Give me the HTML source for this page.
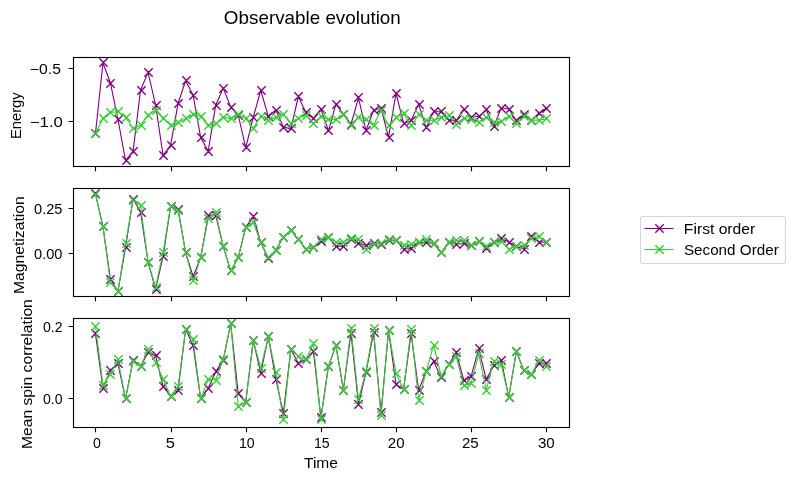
<!DOCTYPE html><html><head><meta charset="utf-8"><style>html,body{margin:0;padding:0;background:#fff;width:794px;height:480px;overflow:hidden}svg{display:block;will-change:transform}text{font-family:"Liberation Sans",sans-serif;fill:#000}</style></head><body>
<svg width="794" height="480" viewBox="0 0 794 480">
<rect width="794" height="480" fill="#fff"/>
<defs>
<clipPath id="c0"><rect x="73.5" y="57.5" width="496.0" height="109.0"/></clipPath>
<clipPath id="c1"><rect x="73.5" y="188.5" width="496.0" height="108.0"/></clipPath>
<clipPath id="c2"><rect x="73.5" y="318.5" width="496.0" height="109.0"/></clipPath>
</defs>
<g clip-path="url(#c0)">
<polyline points="95.45,133.7 102.97,62.8 110.48,83.3 118,119.5 125.51,160.4 133.03,151.6 140.54,90.3 148.06,72.4 155.57,105 163.09,155.4 170.6,145.3 178.12,103.2 185.63,80.8 193.15,95.3 200.66,137.5 208.18,151.3 215.69,105.3 223.21,88 230.72,107.1 238.24,115 245.75,147.8 253.27,117 260.78,90.5 268.3,116.3 275.81,110 283.33,127 290.84,128.9 298.36,96.5 305.87,112.5 313.39,118.2 320.9,109.3 328.42,130.8 335.93,104.1 343.45,114 350.97,124.5 358.48,97.8 366,130.8 373.51,110.2 381.03,108 388.54,137.1 396.06,93.4 403.57,123.3 411.09,120.7 418.6,104.1 426.12,127.7 433.63,111.8 441.15,111.8 448.66,120.1 456.18,120.7 463.69,109.3 471.21,117 478.72,116.3 486.24,109.9 493.75,126.4 501.27,108 508.78,109 516.3,120.7 523.81,114.4 531.33,120.7 538.84,113.2 546.36,108" fill="none" stroke="#800080" stroke-width="1.1111" stroke-linejoin="round" stroke-linecap="square"/>
<path d="M91.33 129.33l8.33 8.33M91.33 137.67l8.33 -8.33M99.33 58.33l8.33 8.33M99.33 66.67l8.33 -8.33M106.33 79.33l8.33 8.33M106.33 87.67l8.33 -8.33M114.33 115.33l8.33 8.33M114.33 123.67l8.33 -8.33M122.33 156.33l8.33 8.33M122.33 164.67l8.33 -8.33M129.33 147.33l8.33 8.33M129.33 155.67l8.33 -8.33M137.33 86.33l8.33 8.33M137.33 94.67l8.33 -8.33M144.33 68.33l8.33 8.33M144.33 76.67l8.33 -8.33M152.33 101.33l8.33 8.33M152.33 109.67l8.33 -8.33M159.33 151.33l8.33 8.33M159.33 159.67l8.33 -8.33M167.33 141.33l8.33 8.33M167.33 149.67l8.33 -8.33M174.33 99.33l8.33 8.33M174.33 107.67l8.33 -8.33M182.33 76.33l8.33 8.33M182.33 84.67l8.33 -8.33M189.33 91.33l8.33 8.33M189.33 99.67l8.33 -8.33M197.33 133.33l8.33 8.33M197.33 141.67l8.33 -8.33M204.33 147.33l8.33 8.33M204.33 155.67l8.33 -8.33M212.33 101.33l8.33 8.33M212.33 109.67l8.33 -8.33M219.33 84.33l8.33 8.33M219.33 92.67l8.33 -8.33M227.33 103.33l8.33 8.33M227.33 111.67l8.33 -8.33M234.33 111.33l8.33 8.33M234.33 119.67l8.33 -8.33M242.33 143.33l8.33 8.33M242.33 151.67l8.33 -8.33M249.33 113.33l8.33 8.33M249.33 121.67l8.33 -8.33M257.33 86.33l8.33 8.33M257.33 94.67l8.33 -8.33M264.33 112.33l8.33 8.33M264.33 120.67l8.33 -8.33M272.33 106.33l8.33 8.33M272.33 114.67l8.33 -8.33M279.33 123.33l8.33 8.33M279.33 131.67l8.33 -8.33M287.33 124.33l8.33 8.33M287.33 132.67l8.33 -8.33M294.33 92.33l8.33 8.33M294.33 100.67l8.33 -8.33M302.33 108.33l8.33 8.33M302.33 116.67l8.33 -8.33M309.33 114.33l8.33 8.33M309.33 122.67l8.33 -8.33M317.33 105.33l8.33 8.33M317.33 113.67l8.33 -8.33M324.33 126.33l8.33 8.33M324.33 134.67l8.33 -8.33M332.33 100.33l8.33 8.33M332.33 108.67l8.33 -8.33M339.33 110.33l8.33 8.33M339.33 118.67l8.33 -8.33M347.33 120.33l8.33 8.33M347.33 128.67l8.33 -8.33M354.33 93.33l8.33 8.33M354.33 101.67l8.33 -8.33M362.33 126.33l8.33 8.33M362.33 134.67l8.33 -8.33M370.33 106.33l8.33 8.33M370.33 114.67l8.33 -8.33M377.33 104.33l8.33 8.33M377.33 112.67l8.33 -8.33M385.33 133.33l8.33 8.33M385.33 141.67l8.33 -8.33M392.33 89.33l8.33 8.33M392.33 97.67l8.33 -8.33M400.33 119.33l8.33 8.33M400.33 127.67l8.33 -8.33M407.33 116.33l8.33 8.33M407.33 124.67l8.33 -8.33M415.33 100.33l8.33 8.33M415.33 108.67l8.33 -8.33M422.33 123.33l8.33 8.33M422.33 131.67l8.33 -8.33M430.33 107.33l8.33 8.33M430.33 115.67l8.33 -8.33M437.33 107.33l8.33 8.33M437.33 115.67l8.33 -8.33M445.33 116.33l8.33 8.33M445.33 124.67l8.33 -8.33M452.33 116.33l8.33 8.33M452.33 124.67l8.33 -8.33M460.33 105.33l8.33 8.33M460.33 113.67l8.33 -8.33M467.33 113.33l8.33 8.33M467.33 121.67l8.33 -8.33M475.33 112.33l8.33 8.33M475.33 120.67l8.33 -8.33M482.33 105.33l8.33 8.33M482.33 113.67l8.33 -8.33M490.33 122.33l8.33 8.33M490.33 130.67l8.33 -8.33M497.33 104.33l8.33 8.33M497.33 112.67l8.33 -8.33M505.33 105.33l8.33 8.33M505.33 113.67l8.33 -8.33M512.33 116.33l8.33 8.33M512.33 124.67l8.33 -8.33M520.33 110.33l8.33 8.33M520.33 118.67l8.33 -8.33M527.33 116.33l8.33 8.33M527.33 124.67l8.33 -8.33M535.33 109.33l8.33 8.33M535.33 117.67l8.33 -8.33M542.33 104.33l8.33 8.33M542.33 112.67l8.33 -8.33" fill="none" stroke="#800080" stroke-width="1.3889"/>
<polyline points="95.45,133.7 102.97,118.2 110.48,112.3 118,111.9 125.51,117 133.03,128.3 140.54,125.2 148.06,115.1 155.57,110 163.09,118.2 170.6,125.2 178.12,122.6 185.63,118.9 193.15,114.4 200.66,116.3 208.18,125.2 215.69,123.9 223.21,117 230.72,118.9 238.24,114.4 245.75,118.2 253.27,128.3 260.78,116.3 268.3,120.1 275.81,117.6 283.33,114.5 290.84,123.9 298.36,118.2 305.87,115.1 313.39,123.9 320.9,116.3 328.42,119.5 335.93,119.5 343.45,114.4 350.97,125.2 358.48,117 366,119.5 373.51,125.5 381.03,110 388.54,125.8 396.06,117.6 403.57,113.8 411.09,125.8 418.6,114.4 426.12,120.7 433.63,120.1 441.15,117.6 448.66,115.7 456.18,124.5 463.69,118.2 471.21,119.5 478.72,122.6 486.24,117 493.75,122 501.27,121.4 508.78,116.3 516.3,123.3 523.81,116.3 531.33,120.1 538.84,120.1 546.36,118.9" fill="none" stroke="#32cd32" stroke-width="1.1111" stroke-linejoin="round" stroke-linecap="square"/>
<path d="M91.33 129.33l8.33 8.33M91.33 137.67l8.33 -8.33M99.33 114.33l8.33 8.33M99.33 122.67l8.33 -8.33M106.33 108.33l8.33 8.33M106.33 116.67l8.33 -8.33M114.33 107.33l8.33 8.33M114.33 115.67l8.33 -8.33M122.33 113.33l8.33 8.33M122.33 121.67l8.33 -8.33M129.33 124.33l8.33 8.33M129.33 132.67l8.33 -8.33M137.33 121.33l8.33 8.33M137.33 129.67l8.33 -8.33M144.33 111.33l8.33 8.33M144.33 119.67l8.33 -8.33M152.33 106.33l8.33 8.33M152.33 114.67l8.33 -8.33M159.33 114.33l8.33 8.33M159.33 122.67l8.33 -8.33M167.33 121.33l8.33 8.33M167.33 129.67l8.33 -8.33M174.33 118.33l8.33 8.33M174.33 126.67l8.33 -8.33M182.33 114.33l8.33 8.33M182.33 122.67l8.33 -8.33M189.33 110.33l8.33 8.33M189.33 118.67l8.33 -8.33M197.33 112.33l8.33 8.33M197.33 120.67l8.33 -8.33M204.33 121.33l8.33 8.33M204.33 129.67l8.33 -8.33M212.33 119.33l8.33 8.33M212.33 127.67l8.33 -8.33M219.33 113.33l8.33 8.33M219.33 121.67l8.33 -8.33M227.33 114.33l8.33 8.33M227.33 122.67l8.33 -8.33M234.33 110.33l8.33 8.33M234.33 118.67l8.33 -8.33M242.33 114.33l8.33 8.33M242.33 122.67l8.33 -8.33M249.33 124.33l8.33 8.33M249.33 132.67l8.33 -8.33M257.33 112.33l8.33 8.33M257.33 120.67l8.33 -8.33M264.33 116.33l8.33 8.33M264.33 124.67l8.33 -8.33M272.33 113.33l8.33 8.33M272.33 121.67l8.33 -8.33M279.33 110.33l8.33 8.33M279.33 118.67l8.33 -8.33M287.33 119.33l8.33 8.33M287.33 127.67l8.33 -8.33M294.33 114.33l8.33 8.33M294.33 122.67l8.33 -8.33M302.33 111.33l8.33 8.33M302.33 119.67l8.33 -8.33M309.33 119.33l8.33 8.33M309.33 127.67l8.33 -8.33M317.33 112.33l8.33 8.33M317.33 120.67l8.33 -8.33M324.33 115.33l8.33 8.33M324.33 123.67l8.33 -8.33M332.33 115.33l8.33 8.33M332.33 123.67l8.33 -8.33M339.33 110.33l8.33 8.33M339.33 118.67l8.33 -8.33M347.33 121.33l8.33 8.33M347.33 129.67l8.33 -8.33M354.33 113.33l8.33 8.33M354.33 121.67l8.33 -8.33M362.33 115.33l8.33 8.33M362.33 123.67l8.33 -8.33M370.33 121.33l8.33 8.33M370.33 129.67l8.33 -8.33M377.33 106.33l8.33 8.33M377.33 114.67l8.33 -8.33M385.33 121.33l8.33 8.33M385.33 129.67l8.33 -8.33M392.33 113.33l8.33 8.33M392.33 121.67l8.33 -8.33M400.33 109.33l8.33 8.33M400.33 117.67l8.33 -8.33M407.33 121.33l8.33 8.33M407.33 129.67l8.33 -8.33M415.33 110.33l8.33 8.33M415.33 118.67l8.33 -8.33M422.33 116.33l8.33 8.33M422.33 124.67l8.33 -8.33M430.33 116.33l8.33 8.33M430.33 124.67l8.33 -8.33M437.33 113.33l8.33 8.33M437.33 121.67l8.33 -8.33M445.33 111.33l8.33 8.33M445.33 119.67l8.33 -8.33M452.33 120.33l8.33 8.33M452.33 128.67l8.33 -8.33M460.33 114.33l8.33 8.33M460.33 122.67l8.33 -8.33M467.33 115.33l8.33 8.33M467.33 123.67l8.33 -8.33M475.33 118.33l8.33 8.33M475.33 126.67l8.33 -8.33M482.33 113.33l8.33 8.33M482.33 121.67l8.33 -8.33M490.33 118.33l8.33 8.33M490.33 126.67l8.33 -8.33M497.33 117.33l8.33 8.33M497.33 125.67l8.33 -8.33M505.33 112.33l8.33 8.33M505.33 120.67l8.33 -8.33M512.33 119.33l8.33 8.33M512.33 127.67l8.33 -8.33M520.33 112.33l8.33 8.33M520.33 120.67l8.33 -8.33M527.33 116.33l8.33 8.33M527.33 124.67l8.33 -8.33M535.33 116.33l8.33 8.33M535.33 124.67l8.33 -8.33M542.33 114.33l8.33 8.33M542.33 122.67l8.33 -8.33" fill="none" stroke="#32cd32" stroke-width="1.3889"/>
</g>
<rect x="73.5" y="57.5" width="496.0" height="109.0" fill="none" stroke="#000" stroke-width="1.1111" stroke-linejoin="miter"/>
<path d="M95.5 166.5v4.86M171.5 166.5v4.86M246.5 166.5v4.86M321.5 166.5v4.86M396.5 166.5v4.86M471.5 166.5v4.86M546.5 166.5v4.86M73.5 68.5h-4.86M73.5 121.5h-4.86" stroke="#000" stroke-width="1.1111" fill="none"/>
<g clip-path="url(#c1)">
<polyline points="95.45,193.5 102.97,226.6 110.48,279.7 118,291 125.51,247.6 133.03,199 140.54,212 148.06,262 155.57,289.1 163.09,256.4 170.6,206.4 178.12,209 185.63,252.6 193.15,276.5 200.66,257.6 208.18,215.6 215.69,215 223.21,246.3 230.72,270.9 238.24,257.6 245.75,227.2 253.27,216.8 260.78,242.5 268.3,258.5 275.81,250.2 283.33,237.1 290.84,230.2 298.36,239.5 305.87,249 313.39,247.8 320.9,241.5 328.42,237.1 335.93,246.5 343.45,246.5 350.97,239 358.48,243.4 366,245.3 373.51,243.4 381.03,244 388.54,240 396.06,240.5 403.57,249 411.09,248.4 418.6,242.1 426.12,242.7 433.63,243.3 441.15,252.8 448.66,242.1 456.18,244 463.69,243.3 471.21,245.9 478.72,241.5 486.24,248.4 493.75,242.1 501.27,238.5 508.78,242.1 516.3,246.5 523.81,249 531.33,236.4 538.84,242.1 546.36,242" fill="none" stroke="#800080" stroke-width="1.1111" stroke-linejoin="round" stroke-linecap="square"/>
<path d="M91.33 189.33l8.33 8.33M91.33 197.67l8.33 -8.33M99.33 222.33l8.33 8.33M99.33 230.67l8.33 -8.33M106.33 275.33l8.33 8.33M106.33 283.67l8.33 -8.33M114.33 287.33l8.33 8.33M114.33 295.67l8.33 -8.33M122.33 243.33l8.33 8.33M122.33 251.67l8.33 -8.33M129.33 195.33l8.33 8.33M129.33 203.67l8.33 -8.33M137.33 208.33l8.33 8.33M137.33 216.67l8.33 -8.33M144.33 258.33l8.33 8.33M144.33 266.67l8.33 -8.33M152.33 285.33l8.33 8.33M152.33 293.67l8.33 -8.33M159.33 252.33l8.33 8.33M159.33 260.67l8.33 -8.33M167.33 202.33l8.33 8.33M167.33 210.67l8.33 -8.33M174.33 205.33l8.33 8.33M174.33 213.67l8.33 -8.33M182.33 248.33l8.33 8.33M182.33 256.67l8.33 -8.33M189.33 272.33l8.33 8.33M189.33 280.67l8.33 -8.33M197.33 253.33l8.33 8.33M197.33 261.67l8.33 -8.33M204.33 211.33l8.33 8.33M204.33 219.67l8.33 -8.33M212.33 211.33l8.33 8.33M212.33 219.67l8.33 -8.33M219.33 242.33l8.33 8.33M219.33 250.67l8.33 -8.33M227.33 266.33l8.33 8.33M227.33 274.67l8.33 -8.33M234.33 253.33l8.33 8.33M234.33 261.67l8.33 -8.33M242.33 223.33l8.33 8.33M242.33 231.67l8.33 -8.33M249.33 212.33l8.33 8.33M249.33 220.67l8.33 -8.33M257.33 238.33l8.33 8.33M257.33 246.67l8.33 -8.33M264.33 254.33l8.33 8.33M264.33 262.67l8.33 -8.33M272.33 246.33l8.33 8.33M272.33 254.67l8.33 -8.33M279.33 233.33l8.33 8.33M279.33 241.67l8.33 -8.33M287.33 226.33l8.33 8.33M287.33 234.67l8.33 -8.33M294.33 235.33l8.33 8.33M294.33 243.67l8.33 -8.33M302.33 245.33l8.33 8.33M302.33 253.67l8.33 -8.33M309.33 243.33l8.33 8.33M309.33 251.67l8.33 -8.33M317.33 237.33l8.33 8.33M317.33 245.67l8.33 -8.33M324.33 233.33l8.33 8.33M324.33 241.67l8.33 -8.33M332.33 242.33l8.33 8.33M332.33 250.67l8.33 -8.33M339.33 242.33l8.33 8.33M339.33 250.67l8.33 -8.33M347.33 235.33l8.33 8.33M347.33 243.67l8.33 -8.33M354.33 239.33l8.33 8.33M354.33 247.67l8.33 -8.33M362.33 241.33l8.33 8.33M362.33 249.67l8.33 -8.33M370.33 239.33l8.33 8.33M370.33 247.67l8.33 -8.33M377.33 240.33l8.33 8.33M377.33 248.67l8.33 -8.33M385.33 236.33l8.33 8.33M385.33 244.67l8.33 -8.33M392.33 236.33l8.33 8.33M392.33 244.67l8.33 -8.33M400.33 245.33l8.33 8.33M400.33 253.67l8.33 -8.33M407.33 244.33l8.33 8.33M407.33 252.67l8.33 -8.33M415.33 238.33l8.33 8.33M415.33 246.67l8.33 -8.33M422.33 238.33l8.33 8.33M422.33 246.67l8.33 -8.33M430.33 239.33l8.33 8.33M430.33 247.67l8.33 -8.33M437.33 248.33l8.33 8.33M437.33 256.67l8.33 -8.33M445.33 238.33l8.33 8.33M445.33 246.67l8.33 -8.33M452.33 240.33l8.33 8.33M452.33 248.67l8.33 -8.33M460.33 239.33l8.33 8.33M460.33 247.67l8.33 -8.33M467.33 241.33l8.33 8.33M467.33 249.67l8.33 -8.33M475.33 237.33l8.33 8.33M475.33 245.67l8.33 -8.33M482.33 244.33l8.33 8.33M482.33 252.67l8.33 -8.33M490.33 238.33l8.33 8.33M490.33 246.67l8.33 -8.33M497.33 234.33l8.33 8.33M497.33 242.67l8.33 -8.33M505.33 238.33l8.33 8.33M505.33 246.67l8.33 -8.33M512.33 242.33l8.33 8.33M512.33 250.67l8.33 -8.33M520.33 245.33l8.33 8.33M520.33 253.67l8.33 -8.33M527.33 232.33l8.33 8.33M527.33 240.67l8.33 -8.33M535.33 238.33l8.33 8.33M535.33 246.67l8.33 -8.33M542.33 238.33l8.33 8.33M542.33 246.67l8.33 -8.33" fill="none" stroke="#800080" stroke-width="1.3889"/>
<polyline points="95.45,194.4 102.97,226.6 110.48,282.8 118,291 125.51,243.8 133.03,200.1 140.54,205.6 148.06,262 155.57,287.2 163.09,252.6 170.6,206.4 178.12,210.8 185.63,252.6 193.15,280.9 200.66,257.6 208.18,218.5 215.69,212.5 223.21,246.3 230.72,270.9 238.24,257.6 245.75,227.2 253.27,222.5 260.78,242.5 268.3,257.6 275.81,250.2 283.33,237.1 290.84,230.2 298.36,239.5 305.87,249 313.39,247.8 320.9,239.6 328.42,237.1 335.93,242.1 343.45,242.1 350.97,238.3 358.48,239.6 366,249 373.51,244 381.03,243 388.54,239.6 396.06,240.5 403.57,245.2 411.09,244.6 418.6,242.1 426.12,239.6 433.63,243.3 441.15,252.8 448.66,242.1 456.18,240.8 463.69,240.8 471.21,245.9 478.72,241.5 486.24,246.5 493.75,242.1 501.27,241.4 508.78,249 516.3,246.5 523.81,245.3 531.33,238.3 538.84,236.4 546.36,242.1" fill="none" stroke="#32cd32" stroke-width="1.1111" stroke-linejoin="round" stroke-linecap="square"/>
<path d="M91.33 190.33l8.33 8.33M91.33 198.67l8.33 -8.33M99.33 222.33l8.33 8.33M99.33 230.67l8.33 -8.33M106.33 278.33l8.33 8.33M106.33 286.67l8.33 -8.33M114.33 287.33l8.33 8.33M114.33 295.67l8.33 -8.33M122.33 239.33l8.33 8.33M122.33 247.67l8.33 -8.33M129.33 196.33l8.33 8.33M129.33 204.67l8.33 -8.33M137.33 201.33l8.33 8.33M137.33 209.67l8.33 -8.33M144.33 258.33l8.33 8.33M144.33 266.67l8.33 -8.33M152.33 283.33l8.33 8.33M152.33 291.67l8.33 -8.33M159.33 248.33l8.33 8.33M159.33 256.67l8.33 -8.33M167.33 202.33l8.33 8.33M167.33 210.67l8.33 -8.33M174.33 206.33l8.33 8.33M174.33 214.67l8.33 -8.33M182.33 248.33l8.33 8.33M182.33 256.67l8.33 -8.33M189.33 276.33l8.33 8.33M189.33 284.67l8.33 -8.33M197.33 253.33l8.33 8.33M197.33 261.67l8.33 -8.33M204.33 214.33l8.33 8.33M204.33 222.67l8.33 -8.33M212.33 208.33l8.33 8.33M212.33 216.67l8.33 -8.33M219.33 242.33l8.33 8.33M219.33 250.67l8.33 -8.33M227.33 266.33l8.33 8.33M227.33 274.67l8.33 -8.33M234.33 253.33l8.33 8.33M234.33 261.67l8.33 -8.33M242.33 223.33l8.33 8.33M242.33 231.67l8.33 -8.33M249.33 218.33l8.33 8.33M249.33 226.67l8.33 -8.33M257.33 238.33l8.33 8.33M257.33 246.67l8.33 -8.33M264.33 253.33l8.33 8.33M264.33 261.67l8.33 -8.33M272.33 246.33l8.33 8.33M272.33 254.67l8.33 -8.33M279.33 233.33l8.33 8.33M279.33 241.67l8.33 -8.33M287.33 226.33l8.33 8.33M287.33 234.67l8.33 -8.33M294.33 235.33l8.33 8.33M294.33 243.67l8.33 -8.33M302.33 245.33l8.33 8.33M302.33 253.67l8.33 -8.33M309.33 243.33l8.33 8.33M309.33 251.67l8.33 -8.33M317.33 235.33l8.33 8.33M317.33 243.67l8.33 -8.33M324.33 233.33l8.33 8.33M324.33 241.67l8.33 -8.33M332.33 238.33l8.33 8.33M332.33 246.67l8.33 -8.33M339.33 238.33l8.33 8.33M339.33 246.67l8.33 -8.33M347.33 234.33l8.33 8.33M347.33 242.67l8.33 -8.33M354.33 235.33l8.33 8.33M354.33 243.67l8.33 -8.33M362.33 245.33l8.33 8.33M362.33 253.67l8.33 -8.33M370.33 240.33l8.33 8.33M370.33 248.67l8.33 -8.33M377.33 239.33l8.33 8.33M377.33 247.67l8.33 -8.33M385.33 235.33l8.33 8.33M385.33 243.67l8.33 -8.33M392.33 236.33l8.33 8.33M392.33 244.67l8.33 -8.33M400.33 241.33l8.33 8.33M400.33 249.67l8.33 -8.33M407.33 240.33l8.33 8.33M407.33 248.67l8.33 -8.33M415.33 238.33l8.33 8.33M415.33 246.67l8.33 -8.33M422.33 235.33l8.33 8.33M422.33 243.67l8.33 -8.33M430.33 239.33l8.33 8.33M430.33 247.67l8.33 -8.33M437.33 248.33l8.33 8.33M437.33 256.67l8.33 -8.33M445.33 238.33l8.33 8.33M445.33 246.67l8.33 -8.33M452.33 236.33l8.33 8.33M452.33 244.67l8.33 -8.33M460.33 236.33l8.33 8.33M460.33 244.67l8.33 -8.33M467.33 241.33l8.33 8.33M467.33 249.67l8.33 -8.33M475.33 237.33l8.33 8.33M475.33 245.67l8.33 -8.33M482.33 242.33l8.33 8.33M482.33 250.67l8.33 -8.33M490.33 238.33l8.33 8.33M490.33 246.67l8.33 -8.33M497.33 237.33l8.33 8.33M497.33 245.67l8.33 -8.33M505.33 245.33l8.33 8.33M505.33 253.67l8.33 -8.33M512.33 242.33l8.33 8.33M512.33 250.67l8.33 -8.33M520.33 241.33l8.33 8.33M520.33 249.67l8.33 -8.33M527.33 234.33l8.33 8.33M527.33 242.67l8.33 -8.33M535.33 232.33l8.33 8.33M535.33 240.67l8.33 -8.33M542.33 238.33l8.33 8.33M542.33 246.67l8.33 -8.33" fill="none" stroke="#32cd32" stroke-width="1.3889"/>
</g>
<rect x="73.5" y="188.5" width="496.0" height="108.0" fill="none" stroke="#000" stroke-width="1.1111" stroke-linejoin="miter"/>
<path d="M95.5 296.5v4.86M171.5 296.5v4.86M246.5 296.5v4.86M321.5 296.5v4.86M396.5 296.5v4.86M471.5 296.5v4.86M546.5 296.5v4.86M73.5 208.5h-4.86M73.5 253.5h-4.86" stroke="#000" stroke-width="1.1111" fill="none"/>
<g clip-path="url(#c2)">
<polyline points="95.45,333.6 102.97,388.2 110.48,370.3 118,363.9 125.51,398.9 133.03,360.1 140.54,366.4 148.06,352.5 155.57,355.7 163.09,386.3 170.6,396.3 178.12,390 185.63,329.2 193.15,345.6 200.66,398.9 208.18,388.2 215.69,371.9 223.21,360 230.72,323.6 238.24,393.8 245.75,402 253.27,340.6 260.78,373 268.3,336.8 275.81,379 283.33,413.3 290.84,349.4 298.36,363.2 305.87,359.5 313.39,351.3 320.9,417.7 328.42,366.4 335.93,345.6 343.45,390 350.97,333 358.48,404.5 366,372.4 373.51,332.7 381.03,412.7 388.54,330.5 396.06,384.4 403.57,389.4 411.09,333.6 418.6,390 426.12,371.6 433.63,361.3 441.15,377.4 448.66,364.5 456.18,352.5 463.69,380 471.21,376.2 478.72,348.7 486.24,379.3 493.75,365.7 501.27,360.1 508.78,397 516.3,351.3 523.81,370.5 531.33,374.8 538.84,363.2 546.36,363.2" fill="none" stroke="#800080" stroke-width="1.1111" stroke-linejoin="round" stroke-linecap="square"/>
<path d="M91.33 329.33l8.33 8.33M91.33 337.67l8.33 -8.33M99.33 384.33l8.33 8.33M99.33 392.67l8.33 -8.33M106.33 366.33l8.33 8.33M106.33 374.67l8.33 -8.33M114.33 359.33l8.33 8.33M114.33 367.67l8.33 -8.33M122.33 394.33l8.33 8.33M122.33 402.67l8.33 -8.33M129.33 356.33l8.33 8.33M129.33 364.67l8.33 -8.33M137.33 362.33l8.33 8.33M137.33 370.67l8.33 -8.33M144.33 348.33l8.33 8.33M144.33 356.67l8.33 -8.33M152.33 351.33l8.33 8.33M152.33 359.67l8.33 -8.33M159.33 382.33l8.33 8.33M159.33 390.67l8.33 -8.33M167.33 392.33l8.33 8.33M167.33 400.67l8.33 -8.33M174.33 386.33l8.33 8.33M174.33 394.67l8.33 -8.33M182.33 325.33l8.33 8.33M182.33 333.67l8.33 -8.33M189.33 341.33l8.33 8.33M189.33 349.67l8.33 -8.33M197.33 394.33l8.33 8.33M197.33 402.67l8.33 -8.33M204.33 384.33l8.33 8.33M204.33 392.67l8.33 -8.33M212.33 367.33l8.33 8.33M212.33 375.67l8.33 -8.33M219.33 356.33l8.33 8.33M219.33 364.67l8.33 -8.33M227.33 319.33l8.33 8.33M227.33 327.67l8.33 -8.33M234.33 389.33l8.33 8.33M234.33 397.67l8.33 -8.33M242.33 398.33l8.33 8.33M242.33 406.67l8.33 -8.33M249.33 336.33l8.33 8.33M249.33 344.67l8.33 -8.33M257.33 369.33l8.33 8.33M257.33 377.67l8.33 -8.33M264.33 332.33l8.33 8.33M264.33 340.67l8.33 -8.33M272.33 375.33l8.33 8.33M272.33 383.67l8.33 -8.33M279.33 409.33l8.33 8.33M279.33 417.67l8.33 -8.33M287.33 345.33l8.33 8.33M287.33 353.67l8.33 -8.33M294.33 359.33l8.33 8.33M294.33 367.67l8.33 -8.33M302.33 355.33l8.33 8.33M302.33 363.67l8.33 -8.33M309.33 347.33l8.33 8.33M309.33 355.67l8.33 -8.33M317.33 413.33l8.33 8.33M317.33 421.67l8.33 -8.33M324.33 362.33l8.33 8.33M324.33 370.67l8.33 -8.33M332.33 341.33l8.33 8.33M332.33 349.67l8.33 -8.33M339.33 386.33l8.33 8.33M339.33 394.67l8.33 -8.33M347.33 329.33l8.33 8.33M347.33 337.67l8.33 -8.33M354.33 400.33l8.33 8.33M354.33 408.67l8.33 -8.33M362.33 368.33l8.33 8.33M362.33 376.67l8.33 -8.33M370.33 328.33l8.33 8.33M370.33 336.67l8.33 -8.33M377.33 408.33l8.33 8.33M377.33 416.67l8.33 -8.33M385.33 326.33l8.33 8.33M385.33 334.67l8.33 -8.33M392.33 380.33l8.33 8.33M392.33 388.67l8.33 -8.33M400.33 385.33l8.33 8.33M400.33 393.67l8.33 -8.33M407.33 329.33l8.33 8.33M407.33 337.67l8.33 -8.33M415.33 386.33l8.33 8.33M415.33 394.67l8.33 -8.33M422.33 367.33l8.33 8.33M422.33 375.67l8.33 -8.33M430.33 357.33l8.33 8.33M430.33 365.67l8.33 -8.33M437.33 373.33l8.33 8.33M437.33 381.67l8.33 -8.33M445.33 360.33l8.33 8.33M445.33 368.67l8.33 -8.33M452.33 348.33l8.33 8.33M452.33 356.67l8.33 -8.33M460.33 376.33l8.33 8.33M460.33 384.67l8.33 -8.33M467.33 372.33l8.33 8.33M467.33 380.67l8.33 -8.33M475.33 344.33l8.33 8.33M475.33 352.67l8.33 -8.33M482.33 375.33l8.33 8.33M482.33 383.67l8.33 -8.33M490.33 361.33l8.33 8.33M490.33 369.67l8.33 -8.33M497.33 356.33l8.33 8.33M497.33 364.67l8.33 -8.33M505.33 393.33l8.33 8.33M505.33 401.67l8.33 -8.33M512.33 347.33l8.33 8.33M512.33 355.67l8.33 -8.33M520.33 366.33l8.33 8.33M520.33 374.67l8.33 -8.33M527.33 370.33l8.33 8.33M527.33 378.67l8.33 -8.33M535.33 359.33l8.33 8.33M535.33 367.67l8.33 -8.33M542.33 359.33l8.33 8.33M542.33 367.67l8.33 -8.33" fill="none" stroke="#800080" stroke-width="1.3889"/>
<polyline points="95.45,326.1 102.97,385 110.48,374 118,359.5 125.51,398.9 133.03,361.3 140.54,366.4 148.06,349.4 155.57,362 163.09,379.3 170.6,396.3 178.12,386.3 185.63,329.2 193.15,339.9 200.66,398.9 208.18,379.3 215.69,380 223.21,359.5 230.72,323.6 238.24,406.4 245.75,402 253.27,340.6 260.78,368.2 268.3,336.8 275.81,372.8 283.33,419.6 290.84,349.4 298.36,356.3 305.87,359.5 313.39,343.7 320.9,419.6 328.42,366.4 335.93,345.6 343.45,390 350.97,328 358.48,399.5 366,371 373.51,328.9 381.03,415.9 388.54,330.5 396.06,373.8 403.57,389.4 411.09,329.2 418.6,400.1 426.12,371.6 433.63,345 441.15,376 448.66,364.5 456.18,356.3 463.69,385.6 471.21,383.1 478.72,353.8 486.24,390 493.75,361.3 501.27,364.5 508.78,397 516.3,351.3 523.81,370.3 531.33,374.8 538.84,360.1 546.36,366.4" fill="none" stroke="#32cd32" stroke-width="1.1111" stroke-linejoin="round" stroke-linecap="square"/>
<path d="M91.33 322.33l8.33 8.33M91.33 330.67l8.33 -8.33M99.33 381.33l8.33 8.33M99.33 389.67l8.33 -8.33M106.33 370.33l8.33 8.33M106.33 378.67l8.33 -8.33M114.33 355.33l8.33 8.33M114.33 363.67l8.33 -8.33M122.33 394.33l8.33 8.33M122.33 402.67l8.33 -8.33M129.33 357.33l8.33 8.33M129.33 365.67l8.33 -8.33M137.33 362.33l8.33 8.33M137.33 370.67l8.33 -8.33M144.33 345.33l8.33 8.33M144.33 353.67l8.33 -8.33M152.33 358.33l8.33 8.33M152.33 366.67l8.33 -8.33M159.33 375.33l8.33 8.33M159.33 383.67l8.33 -8.33M167.33 392.33l8.33 8.33M167.33 400.67l8.33 -8.33M174.33 382.33l8.33 8.33M174.33 390.67l8.33 -8.33M182.33 325.33l8.33 8.33M182.33 333.67l8.33 -8.33M189.33 335.33l8.33 8.33M189.33 343.67l8.33 -8.33M197.33 394.33l8.33 8.33M197.33 402.67l8.33 -8.33M204.33 375.33l8.33 8.33M204.33 383.67l8.33 -8.33M212.33 376.33l8.33 8.33M212.33 384.67l8.33 -8.33M219.33 355.33l8.33 8.33M219.33 363.67l8.33 -8.33M227.33 319.33l8.33 8.33M227.33 327.67l8.33 -8.33M234.33 402.33l8.33 8.33M234.33 410.67l8.33 -8.33M242.33 398.33l8.33 8.33M242.33 406.67l8.33 -8.33M249.33 336.33l8.33 8.33M249.33 344.67l8.33 -8.33M257.33 364.33l8.33 8.33M257.33 372.67l8.33 -8.33M264.33 332.33l8.33 8.33M264.33 340.67l8.33 -8.33M272.33 368.33l8.33 8.33M272.33 376.67l8.33 -8.33M279.33 415.33l8.33 8.33M279.33 423.67l8.33 -8.33M287.33 345.33l8.33 8.33M287.33 353.67l8.33 -8.33M294.33 352.33l8.33 8.33M294.33 360.67l8.33 -8.33M302.33 355.33l8.33 8.33M302.33 363.67l8.33 -8.33M309.33 339.33l8.33 8.33M309.33 347.67l8.33 -8.33M317.33 415.33l8.33 8.33M317.33 423.67l8.33 -8.33M324.33 362.33l8.33 8.33M324.33 370.67l8.33 -8.33M332.33 341.33l8.33 8.33M332.33 349.67l8.33 -8.33M339.33 386.33l8.33 8.33M339.33 394.67l8.33 -8.33M347.33 324.33l8.33 8.33M347.33 332.67l8.33 -8.33M354.33 395.33l8.33 8.33M354.33 403.67l8.33 -8.33M362.33 367.33l8.33 8.33M362.33 375.67l8.33 -8.33M370.33 324.33l8.33 8.33M370.33 332.67l8.33 -8.33M377.33 411.33l8.33 8.33M377.33 419.67l8.33 -8.33M385.33 326.33l8.33 8.33M385.33 334.67l8.33 -8.33M392.33 369.33l8.33 8.33M392.33 377.67l8.33 -8.33M400.33 385.33l8.33 8.33M400.33 393.67l8.33 -8.33M407.33 325.33l8.33 8.33M407.33 333.67l8.33 -8.33M415.33 396.33l8.33 8.33M415.33 404.67l8.33 -8.33M422.33 367.33l8.33 8.33M422.33 375.67l8.33 -8.33M430.33 341.33l8.33 8.33M430.33 349.67l8.33 -8.33M437.33 372.33l8.33 8.33M437.33 380.67l8.33 -8.33M445.33 360.33l8.33 8.33M445.33 368.67l8.33 -8.33M452.33 352.33l8.33 8.33M452.33 360.67l8.33 -8.33M460.33 381.33l8.33 8.33M460.33 389.67l8.33 -8.33M467.33 379.33l8.33 8.33M467.33 387.67l8.33 -8.33M475.33 349.33l8.33 8.33M475.33 357.67l8.33 -8.33M482.33 386.33l8.33 8.33M482.33 394.67l8.33 -8.33M490.33 357.33l8.33 8.33M490.33 365.67l8.33 -8.33M497.33 360.33l8.33 8.33M497.33 368.67l8.33 -8.33M505.33 393.33l8.33 8.33M505.33 401.67l8.33 -8.33M512.33 347.33l8.33 8.33M512.33 355.67l8.33 -8.33M520.33 366.33l8.33 8.33M520.33 374.67l8.33 -8.33M527.33 370.33l8.33 8.33M527.33 378.67l8.33 -8.33M535.33 356.33l8.33 8.33M535.33 364.67l8.33 -8.33M542.33 362.33l8.33 8.33M542.33 370.67l8.33 -8.33" fill="none" stroke="#32cd32" stroke-width="1.3889"/>
</g>
<rect x="73.5" y="318.5" width="496.0" height="109.0" fill="none" stroke="#000" stroke-width="1.1111" stroke-linejoin="miter"/>
<path d="M95.5 427.5v4.86M171.5 427.5v4.86M246.5 427.5v4.86M321.5 427.5v4.86M396.5 427.5v4.86M471.5 427.5v4.86M546.5 427.5v4.86M73.5 326.5h-4.86M73.5 398.5h-4.86" stroke="#000" stroke-width="1.1111" fill="none"/>
<rect x="640.5" y="216.5" width="145" height="47" rx="2.8" ry="2.8" fill="#fff" fill-opacity="0.8" stroke="#ccc" stroke-opacity="0.8" stroke-width="1.11"/>
<path d="M645 228.5h28" stroke="#800080" stroke-width="1.1111" stroke-linecap="square"/>
<path d="M655.33 224.33l8.33 8.33M655.33 232.67l8.33 -8.33" stroke="#800080" stroke-width="1.3889" fill="none"/>
<path d="M645 249.5h28" stroke="#32cd32" stroke-width="1.1111" stroke-linecap="square"/>
<path d="M655.33 245.33l8.33 8.33M655.33 253.67l8.33 -8.33" stroke="#32cd32" stroke-width="1.3889" fill="none"/>
<text id="title" x="223.89" y="24" font-size="18.51" textLength="176.9" lengthAdjust="spacingAndGlyphs">Observable evolution</text>
<text id="xlabel" x="304" y="468" font-size="14.1" textLength="33.88" lengthAdjust="spacingAndGlyphs">Time</text>
<text id="xt0" x="93" y="448" font-size="14.1" textLength="7.84" lengthAdjust="spacingAndGlyphs">0</text>
<text id="xt5" x="165.83" y="448" font-size="14.1" textLength="9.15" lengthAdjust="spacingAndGlyphs">5</text>
<text id="xt10" x="239" y="448" font-size="14.1" textLength="15.69" lengthAdjust="spacingAndGlyphs">10</text>
<text id="xt15" x="314" y="448" font-size="14.1" textLength="15.69" lengthAdjust="spacingAndGlyphs">15</text>
<text id="xt20" x="387.87" y="448" font-size="14.1" textLength="16.87" lengthAdjust="spacingAndGlyphs">20</text>
<text id="xt25" x="461.93" y="448" font-size="14.1" textLength="16.81" lengthAdjust="spacingAndGlyphs">25</text>
<text id="xt30" x="537.93" y="448" font-size="14.1" textLength="16.81" lengthAdjust="spacingAndGlyphs">30</text>
<text id="yl1" x="21" y="139.05" font-size="14.1" textLength="46.76" lengthAdjust="spacingAndGlyphs" transform="rotate(-90 21 139.05)">Energy</text>
<text id="yl2" x="24" y="294.12" font-size="14.1" textLength="97.95" lengthAdjust="spacingAndGlyphs" transform="rotate(-90 24 294.12)">Magnetization</text>
<text id="yl3" x="32" y="449.11" font-size="14.1" textLength="149.95" lengthAdjust="spacingAndGlyphs" transform="rotate(-90 32 449.11)">Mean spin correlation</text>
<text id="yt1a" x="29.88" y="74" font-size="14.1" textLength="31.07" lengthAdjust="spacingAndGlyphs">−0.5</text>
<text id="yt1b" x="29.81" y="127" font-size="14.1" textLength="33.18" lengthAdjust="spacingAndGlyphs">−1.0</text>
<text id="yt2a" x="34" y="214" font-size="14.1" textLength="28.45" lengthAdjust="spacingAndGlyphs">0.25</text>
<text id="yt2b" x="34" y="259" font-size="14.1" textLength="28.45" lengthAdjust="spacingAndGlyphs">0.00</text>
<text id="yt3a" x="43" y="332" font-size="14.1" textLength="19.59" lengthAdjust="spacingAndGlyphs">0.2</text>
<text id="yt3b" x="43" y="404" font-size="14.1" textLength="19.59" lengthAdjust="spacingAndGlyphs">0.0</text>
<text id="lg1" x="683.89" y="234" font-size="14.1" textLength="71.35" lengthAdjust="spacingAndGlyphs">First order</text>
<text id="lg2" x="683.92" y="255" font-size="14.1" textLength="94.81" lengthAdjust="spacingAndGlyphs">Second Order</text>
</svg></body></html>
